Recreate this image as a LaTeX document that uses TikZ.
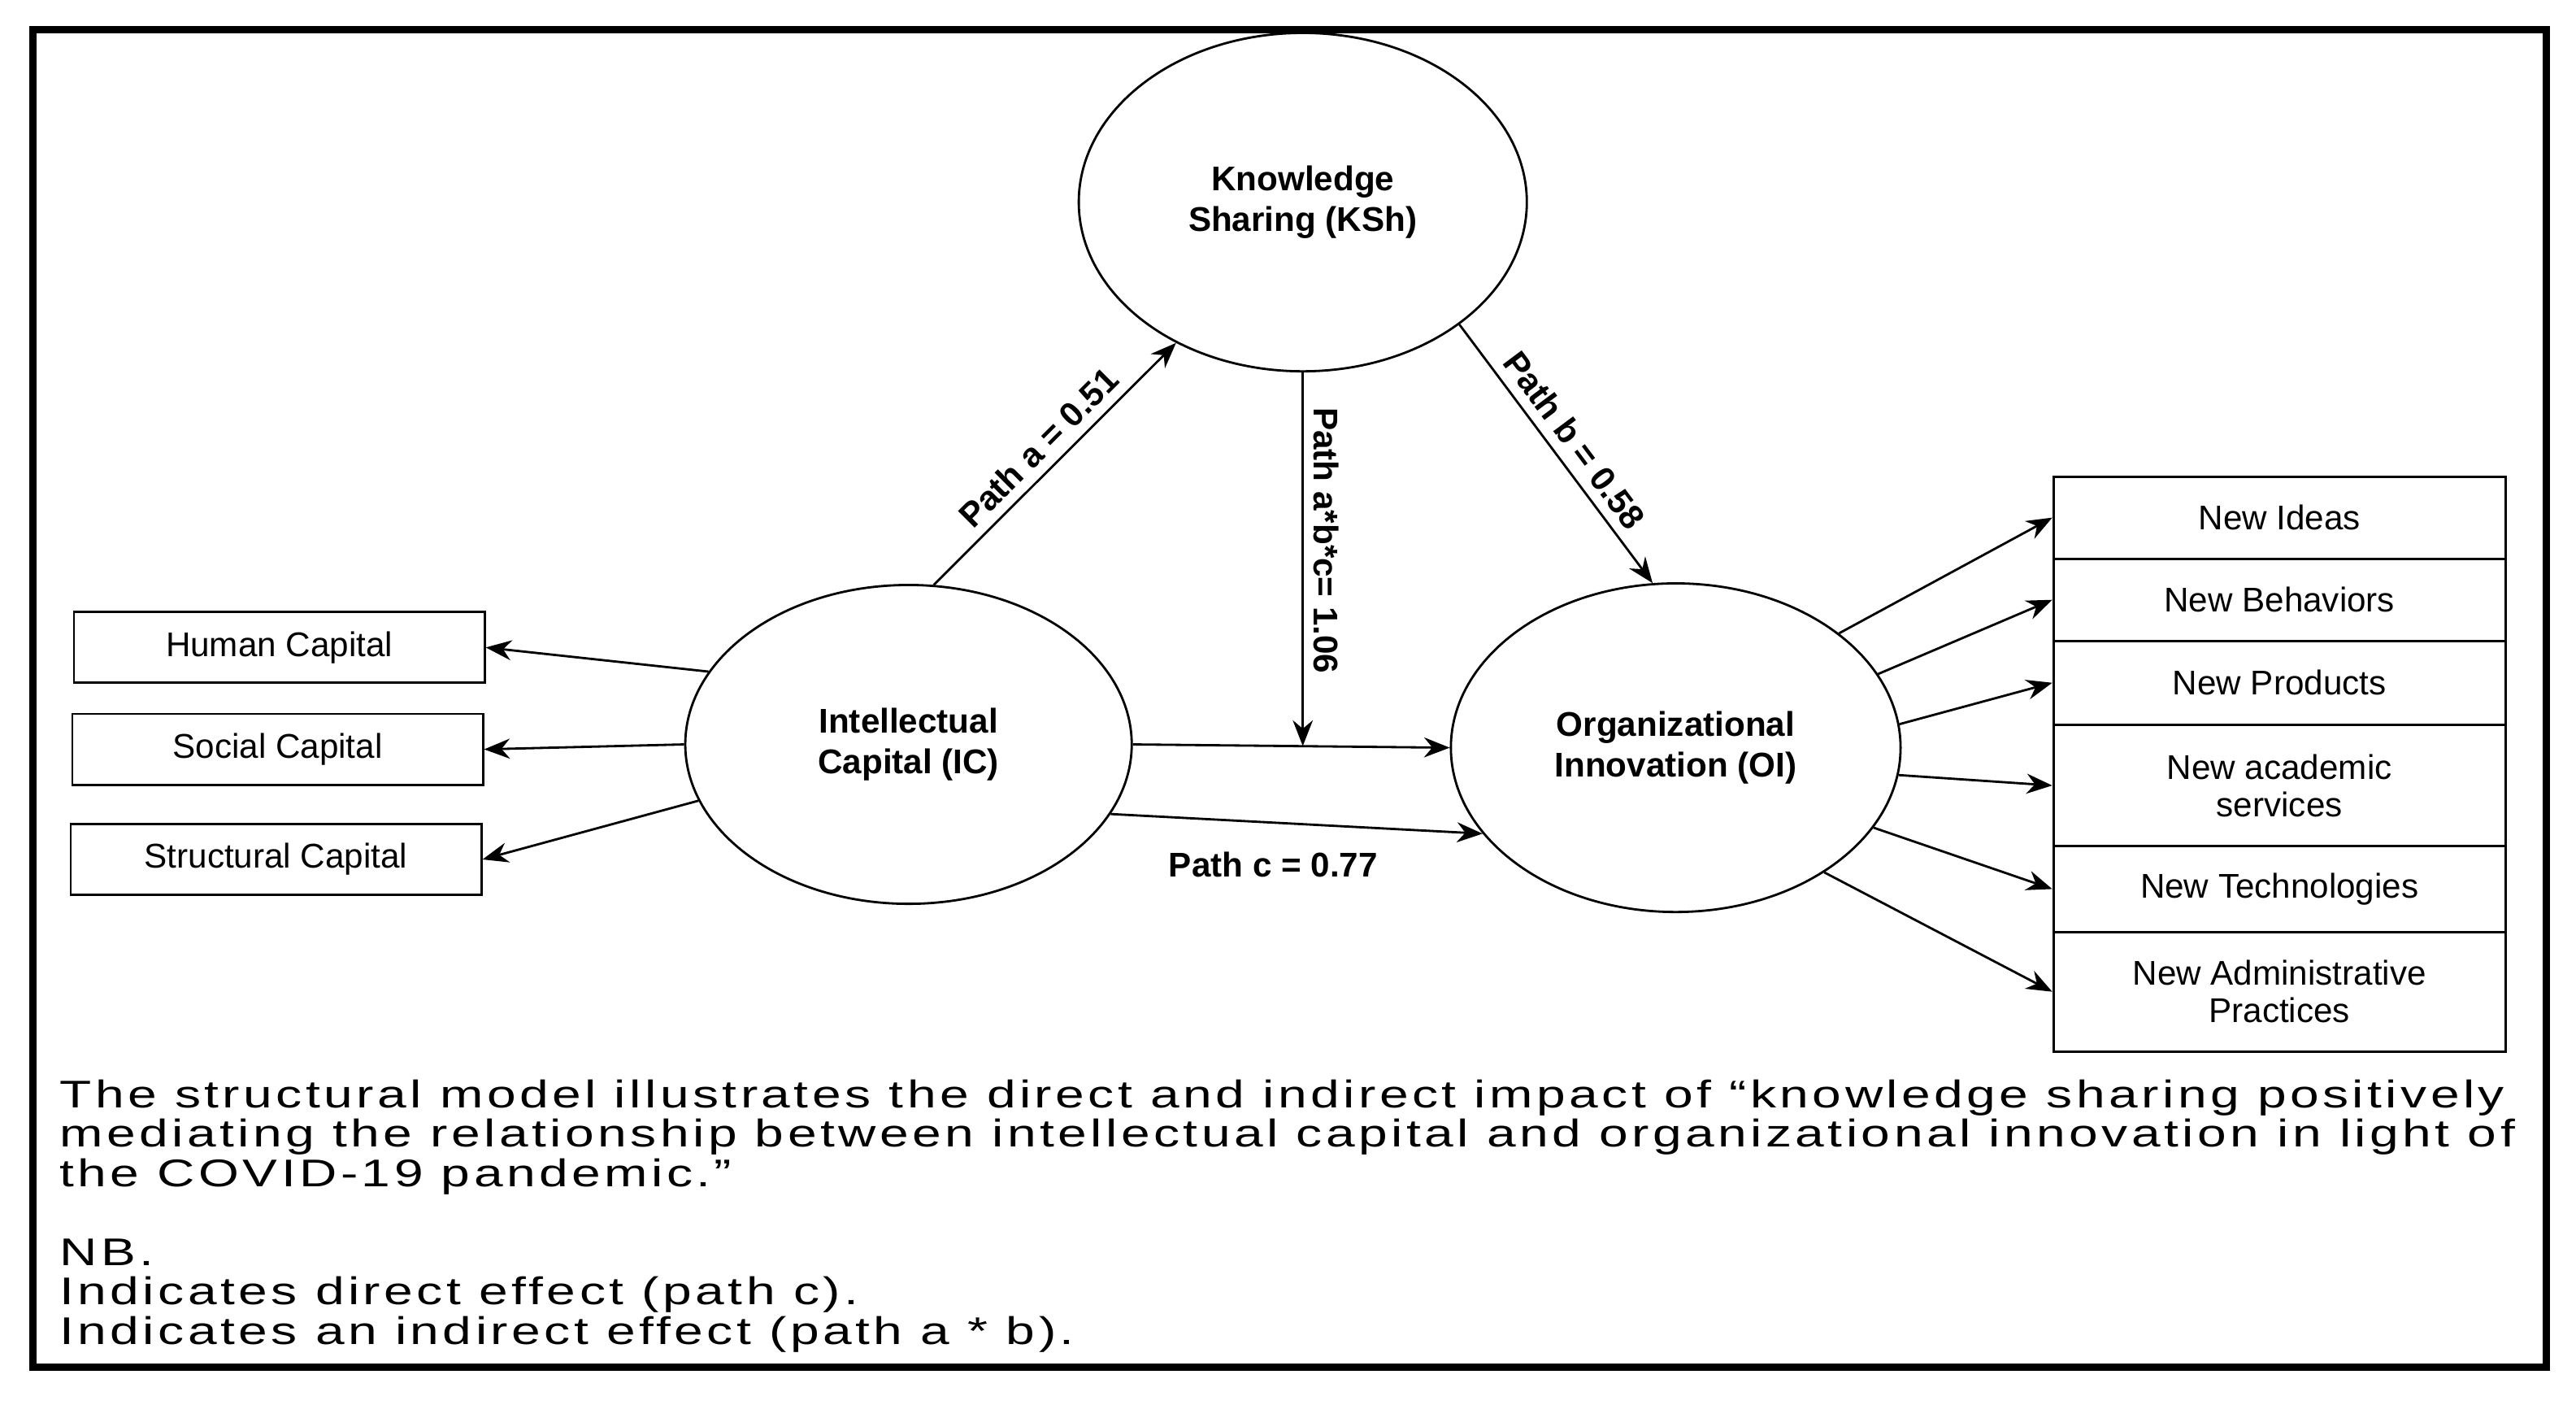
\documentclass[tikz,border=0pt]{standalone}
\usepackage{fontspec}
\usepackage{graphicx}
\setmainfont{Liberation Sans}
\usetikzlibrary{shapes.geometric,arrows.meta}
\newcommand{\capstretch}[1]{\scalebox{1.35}[1]{#1}}
\begin{document}
\begin{tikzpicture}[x=0.0202cm,y=-0.0202cm,
  ell/.style={ellipse,draw,line width=0.8pt,font=\fontsize{12}{14}\selectfont\bfseries,align=center},
  lbox/.style={draw,line width=0.8pt,minimum width=5.05cm,minimum height=0.87cm,font=\fontsize{12}{14}\selectfont},
  rbox/.style={draw,line width=0.8pt,minimum width=5.56cm,font=\fontsize{12}{13}\selectfont,align=center,inner sep=1pt},
  arr/.style={-{Stealth[length=9pt,width=7pt]},line width=0.8pt},
  lab/.style={font=\fontsize{12}{14}\selectfont\bfseries},
  captxt/.style={anchor=base west,inner sep=0pt,font=\fontsize{13.5}{16}\selectfont\addfontfeature{LetterSpace=7}}]
\useasboundingbox (0,0) rectangle (1568,855);
\draw[line width=2.5pt] (20,18) rectangle (1550,832);
\node[ell,minimum width=5.51cm,minimum height=4.16cm] (ksh) at (793,123) {Knowledge\\Sharing (KSh)};
\node[ell,minimum width=5.49cm,minimum height=3.92cm] (ic) at (553,453) {Intellectual\\Capital (IC)};
\node[ell,minimum width=5.53cm,minimum height=4.04cm] (oi) at (1020,455) {Organizational\\Innovation (OI)};
\node[lbox] (hc) at (170,394) {Human Capital};
\node[lbox] (sc) at (169,456) {Social Capital};
\node[lbox] (stc) at (168,523) {Structural Capital};
\node[rbox,minimum height=1.01cm] (ni) at (1387.5,315) {New Ideas};
\node[rbox,minimum height=1.01cm] (nb) at (1387.5,365) {New Behaviors};
\node[rbox,minimum height=1.03cm] (np) at (1387.5,415.5) {New Products};
\node[rbox,minimum height=1.49cm] (na) at (1387.5,478) {New academic\\services};
\node[rbox,minimum height=1.05cm] (nt) at (1387.5,541) {New Technologies};
\node[rbox,minimum height=1.47cm] (nap) at (1387.5,603.5) {New Administrative\\Practices};
\coordinate (m) at (793,454);
\draw[arr] (ic.81) -- (ksh.228) node[lab,midway,above,sloped] {Path a = 0.51};
\draw[arr] (ksh.322) -- (oi.98) node[lab,midway,above,sloped] {Path b = 0.58};
\draw[arr] (ksh.270) -- (m) node[lab,pos=0.45,rotate=-90,anchor=south] {Path a*b*c= 1.06};
\draw[arr] (ic.0) -- (oi.180);
\draw[arr] (ic.-19.4) -- (oi.204);
\node[lab] (pc) at (775,526) {Path c = 0.77};
\draw[arr] (ic.160) -- (hc.east);
\draw[arr] (ic.180) -- (sc.east);
\draw[arr] (ic.195) -- (stc.east);
\draw[arr] (oi.35.6) -- (ni.west);
\draw[arr] (oi.20) -- (nb.west);
\draw[arr] (oi.6) -- (np.west);
\draw[arr] (oi.-7) -- (na.west);
\draw[arr] (oi.-22) -- (nt.west);
\draw[arr] (oi.-40.4) -- (nap.west);
\node[captxt] (c1) at (36,674) {\capstretch{The structural model illustrates the direct and indirect impact of “knowledge sharing positively}};
\node[captxt] (c2) at (36,698) {\capstretch{mediating the relationship between intellectual capital and organizational innovation in light of}};
\node[captxt] (c3) at (36,722) {\capstretch{the COVID-19 pandemic.”}};
\node[captxt] (c4) at (36,770) {\capstretch{NB.}};
\node[captxt] (c5) at (36,794) {\capstretch{Indicates direct effect (path c).}};
\node[captxt] (c6) at (36,818) {\capstretch{Indicates an indirect effect (path a * b).}};
\end{tikzpicture}
\end{document}
